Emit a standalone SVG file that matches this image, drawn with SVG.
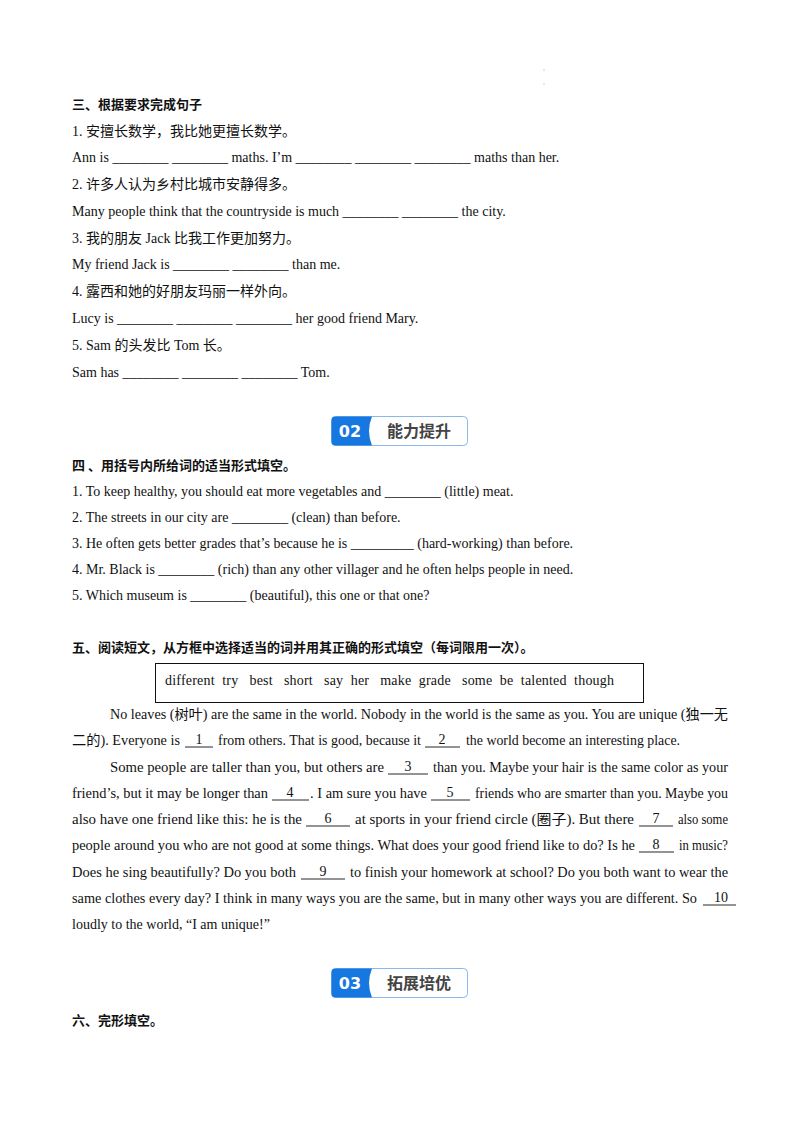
<svg xmlns="http://www.w3.org/2000/svg" width="800" height="1132" viewBox="0 0 800 1132">
<style>
text{font-family:"Liberation Serif","Noto Sans CJK SC",serif;font-size:14px;fill:#111}
.h{font-family:"Noto Sans CJK SC",sans-serif;font-weight:bold;font-size:13px}
.c{text-anchor:middle}
.u{stroke:#111;stroke-width:0.9}
.bn{font-family:"DejaVu Sans",sans-serif;font-weight:bold;font-size:16px;fill:#fff;text-anchor:middle}
.bt{font-family:"Noto Sans CJK SC",sans-serif;font-weight:bold;font-size:16px;fill:#444;text-anchor:middle}
</style>
<rect width="800" height="1132" fill="#fff"/>
<circle cx="544" cy="70" r="0.6" fill="#999"/><circle cx="544" cy="84" r="0.6" fill="#999"/>
<g id="sec3">
<text class="h" x="72" y="109">三、根据要求完成句子</text>
<text x="72" y="136">1. 安擅长数学，我比她更擅长数学。</text>
<text x="72" y="162">Ann is ________ ________ maths. I’m ________ ________ ________ maths than her.</text>
<text x="72" y="189">2. 许多人认为乡村比城市安静得多。</text>
<text x="72" y="216">Many people think that the countryside is much ________ ________ the city.</text>
<text x="72" y="243">3. 我的朋友 Jack 比我工作更加努力。</text>
<text x="72" y="269">My friend Jack is ________ ________ than me.</text>
<text x="72" y="296">4. 露西和她的好朋友玛丽一样外向。</text>
<text x="72" y="323">Lucy is ________ ________ ________ her good friend Mary.</text>
<text x="72" y="350">5. Sam 的头发比 Tom 长。</text>
<text x="72" y="377">Sam has ________ ________ ________ Tom.</text>
</g>
<g id="badge02">
<rect x="331.5" y="416.5" width="136" height="29" rx="4" fill="#fff" stroke="#8ab8ea"/>
<path d="M335.5 416.5 H372 Q366 431 372 445.5 H335.5 Q331.5 445.5 331.5 441.5 V420.5 Q331.5 416.5 335.5 416.5Z" fill="#1677e0"/>
<text class="bn" x="350" y="437">02</text>
<text class="bt" x="419" y="437">能力提升</text>
</g>
<g id="sec4">
<text class="h" x="72" y="470">四 、用括号内所给词的适当形式填空。</text>
<text x="72" y="496">1. To keep healthy, you should eat more vegetables and ________ (little) meat.</text>
<text x="72" y="522">2. The streets in our city are ________ (clean) than before.</text>
<text x="72" y="548">3. He often gets better grades that’s because he is _________ (hard-working) than before.</text>
<text x="72" y="574">4. Mr. Black is ________ (rich) than any other villager and he often helps people in need.</text>
<text x="72" y="600">5. Which museum is ________ (beautiful), this one or that one?</text>
</g>
<g id="sec5">
<text class="h" x="72" y="652">五、阅读短文，从方框中选择适当的词并用其正确的形式填空（每词限用一次）。</text>
<rect x="155.5" y="663.5" width="488" height="39" fill="none" stroke="#111"/>
<text x="165" y="685" xml:space="preserve" textLength="449" lengthAdjust="spacing">different  try   best   short   say  her   make  grade   some  be  talented  though</text>
<text x="110" y="719" textLength="618" lengthAdjust="spacingAndGlyphs">No leaves (树叶) are the same in the world. Nobody in the world is the same as you. You are unique (独一无</text>
<text x="72" y="745" textLength="108" lengthAdjust="spacingAndGlyphs">二的). Everyone is</text>
<text x="218" y="745" textLength="203" lengthAdjust="spacingAndGlyphs">from others. That is good, because it</text>
<text x="466" y="745" textLength="214" lengthAdjust="spacingAndGlyphs">the world become an interesting place.</text>
<text x="110" y="772" textLength="274" lengthAdjust="spacingAndGlyphs">Some people are taller than you, but others are</text>
<text x="433" y="772" textLength="295" lengthAdjust="spacingAndGlyphs">than you. Maybe your hair is the same color as your</text>
<text x="72" y="798" textLength="196" lengthAdjust="spacingAndGlyphs">friend’s, but it may be longer than</text>
<text x="310" y="798" textLength="117" lengthAdjust="spacingAndGlyphs">. I am sure you have</text>
<text x="475" y="798" textLength="253" lengthAdjust="spacingAndGlyphs">friends who are smarter than you. Maybe you</text>
<text x="72" y="824" textLength="230" lengthAdjust="spacingAndGlyphs">also have one friend like this: he is the</text>
<text x="355" y="824" textLength="279" lengthAdjust="spacingAndGlyphs">at sports in your friend circle (圈子). But there</text>
<text x="678" y="824" textLength="50" lengthAdjust="spacingAndGlyphs">also some</text>
<text x="72" y="850" textLength="563" lengthAdjust="spacingAndGlyphs">people around you who are not good at some things. What does your good friend like to do? Is he</text>
<text x="679" y="850" textLength="49" lengthAdjust="spacingAndGlyphs">in music?</text>
<text x="72" y="877" textLength="224" lengthAdjust="spacingAndGlyphs">Does he sing beautifully? Do you both</text>
<text x="350" y="877" textLength="378" lengthAdjust="spacingAndGlyphs">to finish your homework at school? Do you both want to wear the</text>
<text x="72" y="903" textLength="625" lengthAdjust="spacingAndGlyphs">same clothes every day? I think in many ways you are the same, but in many other ways you are different. So</text>
<text x="72" y="929">loudly to the world, “I am unique!”</text>
<g id="blanks">
<text class="c" x="199" y="744">1</text><line class="u" x1="185" y1="747" x2="213" y2="747"/>
<text class="c" x="442" y="744">2</text><line class="u" x1="425" y1="747" x2="460" y2="747"/>
<text class="c" x="408" y="771">3</text><line class="u" x1="388" y1="774" x2="428" y2="774"/>
<text class="c" x="290" y="797">4</text><line class="u" x1="272" y1="800" x2="309" y2="800"/>
<text class="c" x="450" y="797">5</text><line class="u" x1="431" y1="800" x2="470" y2="800"/>
<text class="c" x="328" y="823">6</text><line class="u" x1="306" y1="826" x2="350" y2="826"/>
<text class="c" x="656" y="823">7</text><line class="u" x1="639" y1="826" x2="673" y2="826"/>
<text class="c" x="656" y="849">8</text><line class="u" x1="639" y1="852" x2="674" y2="852"/>
<text class="c" x="323" y="876">9</text><line class="u" x1="301" y1="879" x2="345" y2="879"/>
<text class="c" x="721" y="902">10</text><line class="u" x1="703" y1="905" x2="736" y2="905"/>
</g>
</g>
<g id="badge03">
<rect x="331.5" y="968.5" width="136" height="29" rx="4" fill="#fff" stroke="#8ab8ea"/>
<path d="M335.5 968.5 H372 Q366 983 372 997.5 H335.5 Q331.5 997.5 331.5 993.5 V972.5 Q331.5 968.5 335.5 968.5Z" fill="#1677e0"/>
<text class="bn" x="350" y="989">03</text>
<text class="bt" x="419" y="989">拓展培优</text>
</g>
<g id="sec6">
<text class="h" x="72" y="1025">六、完形填空。</text>
</g>
</svg>
